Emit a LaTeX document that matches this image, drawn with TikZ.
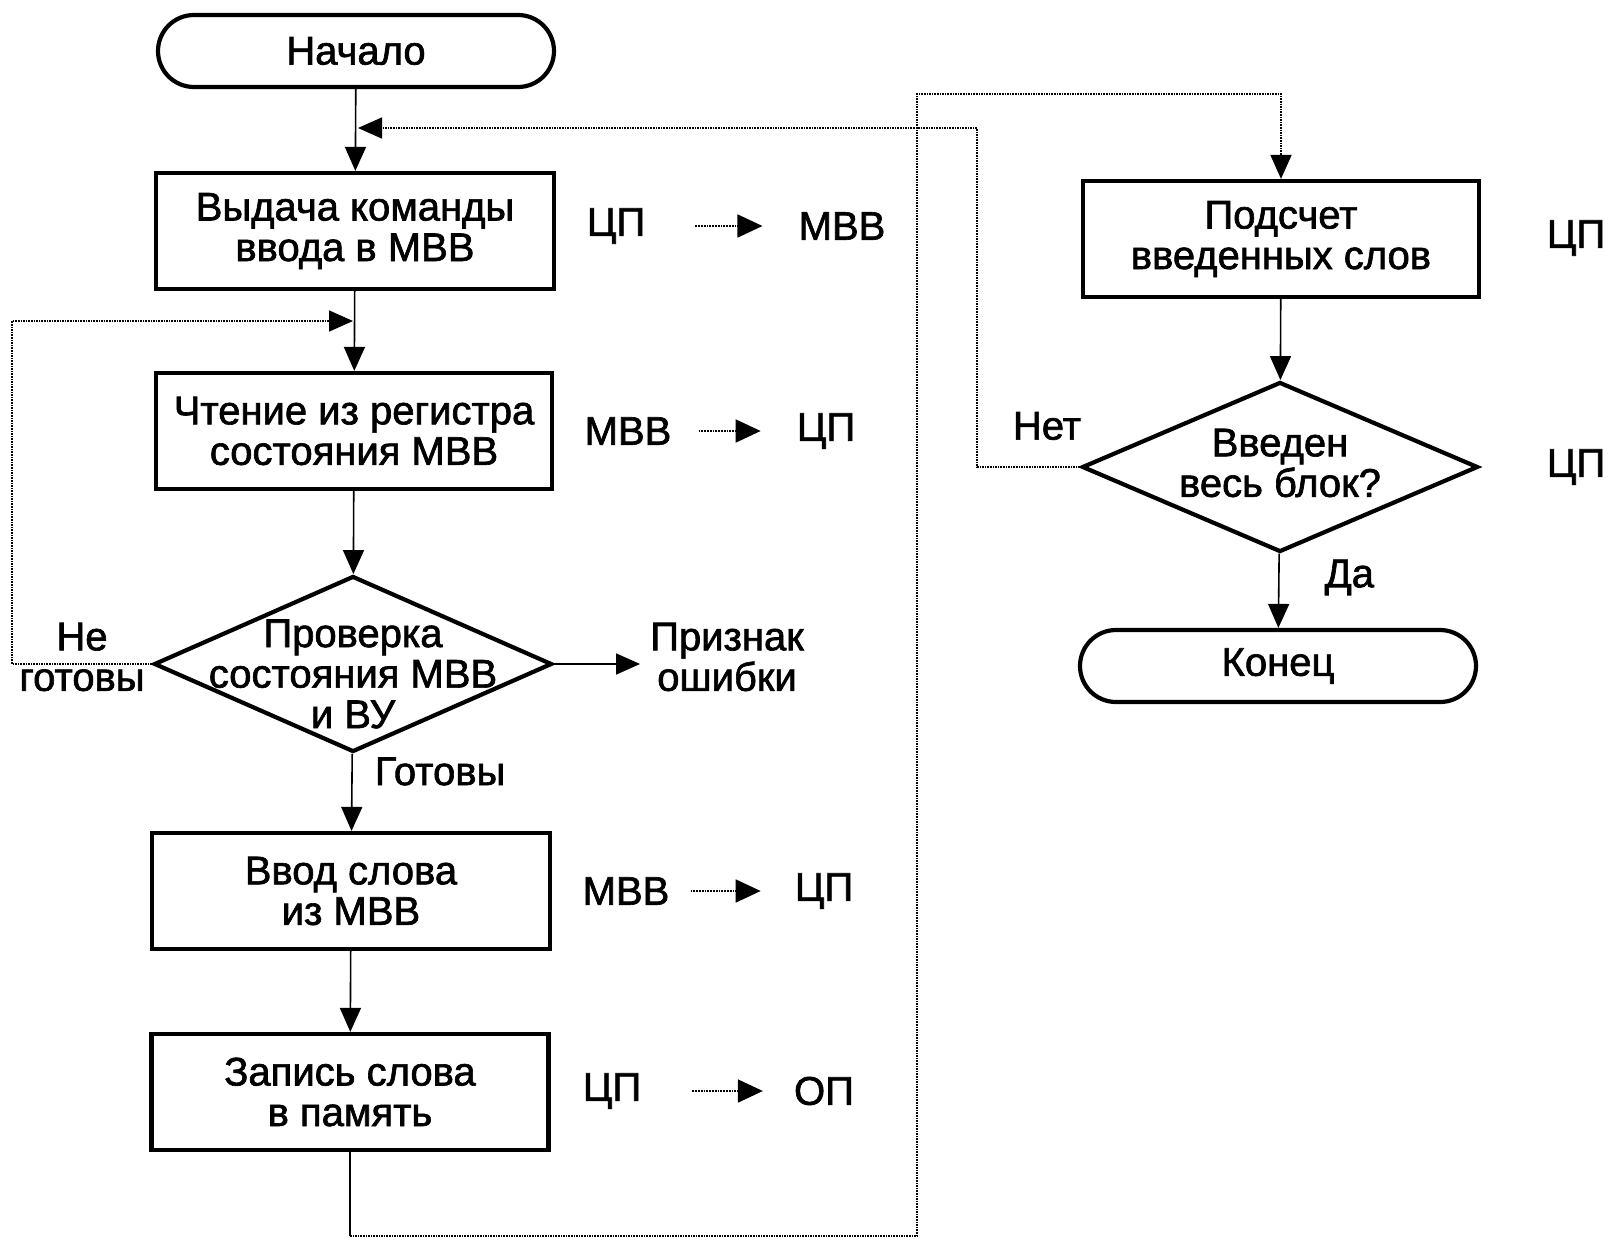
\documentclass[tikz,border=0pt]{standalone}
\usepackage{fontspec}
\setmainfont{Liberation Sans}[FakeBold=1.6]
\usetikzlibrary{arrows.meta,shapes.geometric,shapes.misc}

\begin{document}
\begin{tikzpicture}[x=1pt,y=-1pt,
  every node/.style={font=\fontsize{40}{40.5}\selectfont, align=center},
  box/.style={draw, line width=4.2pt, minimum width=#1, minimum height=116pt, inner sep=0pt},
  term/.style={draw, line width=4.2pt, rounded rectangle, minimum width=396pt, minimum height=72pt, inner sep=0pt},
  decide/.style={draw, line width=4.2pt, diamond, minimum width=398pt, minimum height=176pt, inner sep=0pt},
  flow/.style={line width=1.6pt, -{Triangle[length=24pt,width=21pt]}},
  back/.style={line width=1.6pt, densely dotted},
  backarr/.style={back, -{Triangle[length=24pt,width=21pt]}},
  xfer/.style={line width=1.8pt, densely dotted, -{Triangle[length=25pt,width=23pt]}},
  word/.style={inner sep=0pt}
]
\useasboundingbox (0,0) rectangle (1610,1240);

% left column
\node[term] (start) at (356,51) {Начало};
\node[box=398pt] (b1) at (355,231) {Выдача команды\\ввода в МВВ};
\node[box=396pt] (b2) at (354,431) {Чтение из регистра\\состояния МВВ};
\node[decide, label={[yshift=-10pt]center:{\fontsize{40}{38}\selectfont Проверка\\состояния МВВ\\и ВУ}}] (d1) at (353,664) {};
\node[box=398pt] (b3) at (351,891) {Ввод слова\\из МВВ};
\node[box=397pt] (b4) at (350,1092) {Запись слова\\в память};

% right column
\node[box=396pt] (pods) at (1281,239) {Подсчет\\введенных слов};
\node[decide, minimum width=396pt, minimum height=170pt, label={[yshift=4pt]center:Введен\\весь блок?}] (d2) at (1280,467) {};
\node[term] (fin) at (1278,666) {Конец};

% transfer annotations
\node[word] (t1a) at (616,226) {ЦП};
\node[word] (t1b) at (842,226) {МВВ};
\node[word] (t2a) at (628,431) {МВВ};
\node[word] (t2b) at (826,431) {ЦП};
\node[word] (t3a) at (626,891) {МВВ};
\node[word] (t3b) at (824,891) {ЦП};
\node[word] (t4a) at (612,1091) {ЦП};
\node[word] (t4b) at (824,1091) {ОП};
\node[word] (t5) at (1576,238) {ЦП};
\node[word] (t6) at (1576,467) {ЦП};
\node[word] (err) at (727,657) {Признак\\ошибки};

\draw[xfer] ([xshift=50pt]t1a.east) -- ([xshift=-36pt]t1b.west);
\draw[xfer] ([xshift=27pt]t2a.east) -- ([xshift=-36pt]t2b.west);
\draw[xfer] ([xshift=21pt]t3a.east) -- ([xshift=-34pt]t3b.west);
\draw[xfer] ([xshift=51pt]t4a.east) -- ([xshift=-31pt]t4b.west);

% main flow
\draw[flow] (start) -- (b1);
\draw[flow] (b1) -- (b2);
\draw[flow] (b2) -- (d1);
\draw[flow] (d1) -- node[pos=0.23, anchor=west, word, xshift=22pt] {Готовы} (b3);
\draw[flow] (b3) -- (b4);
\draw[flow] (d1.east) -- ([xshift=-10pt]err.west |- d1.east);
\draw[flow] (pods) -- (d2);
\draw[flow] (d2) -- node[pos=0.32, anchor=west, word, xshift=45pt] {Да} (fin);

% "not ready" loop
\coordinate (nl) at (12,321);
\coordinate (nr) at (353,321);
\draw[backarr] (d1.west) -| (nl) -- (nr);
\node[word] at (82,657) {Не\\готовы};

% from write step to word count
\coordinate (wb) at (350,1236);
\coordinate (wt) at (917,94);
\draw[line width=1.6pt] (b4.south) -- (wb);
\draw[backarr] (wb) -| (wt) -| (pods.north);

% "block not complete" loop
\coordinate (kr) at (977,128);
\coordinate (kl) at (358,128);
\draw[backarr] (d2.west) -| (kr) -- (kl);
\node[word] at (1047,426) {Нет};

\end{tikzpicture}
\end{document}
